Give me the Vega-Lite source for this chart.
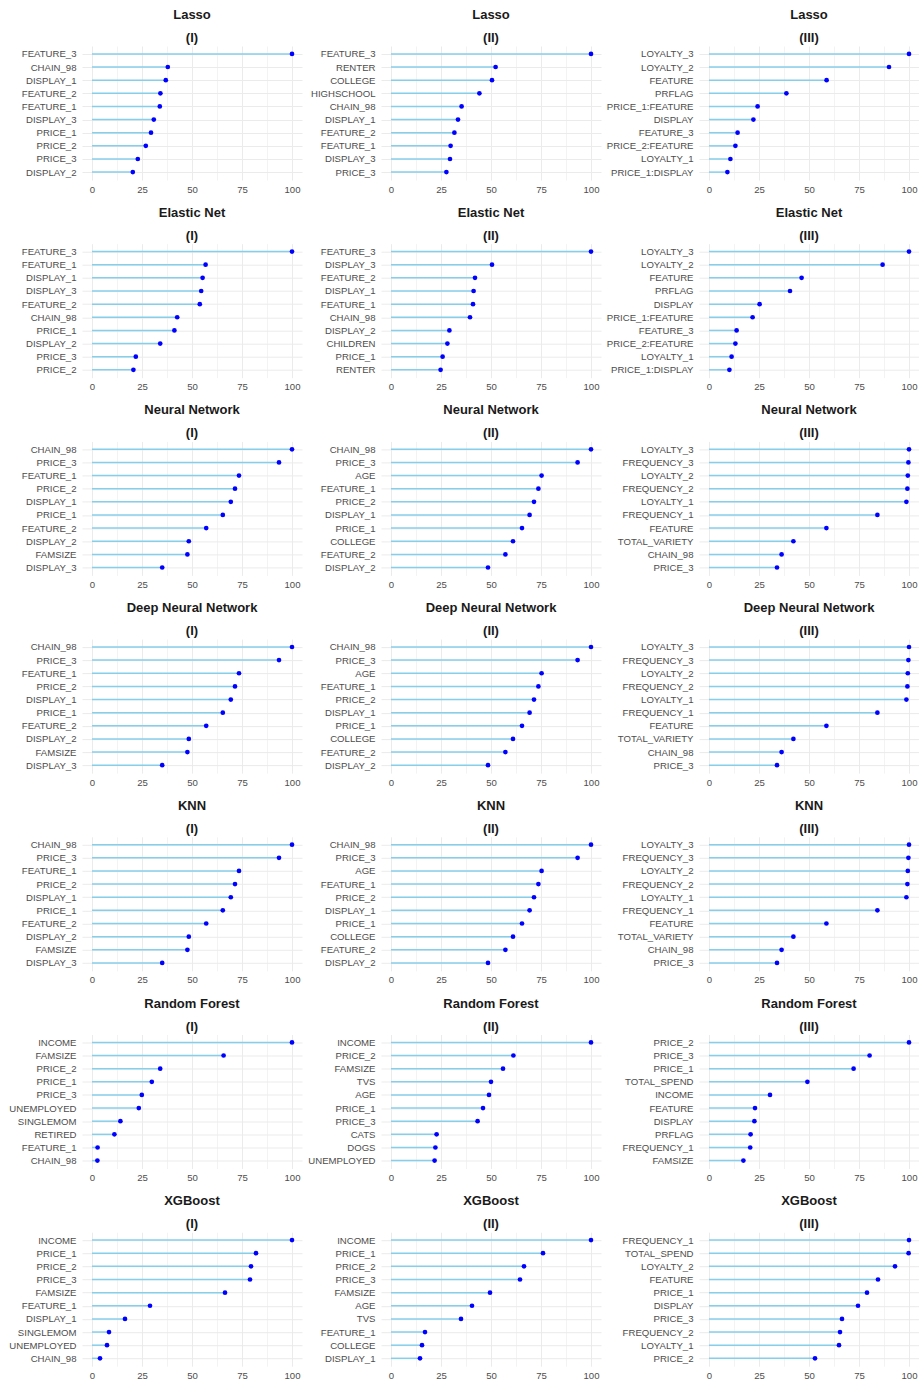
{
"$schema": "https://vega.github.io/schema/vega-lite/v6.json",
"padding": {"left": 8, "top": 9, "right": 0, "bottom": 0},
"datasets": {"d": [
{"p":"L1","f":"FEATURE_3","v":100},{"p":"L1","f":"CHAIN_98","v":37.9},{"p":"L1","f":"DISPLAY_1","v":36.9},{"p":"L1","f":"FEATURE_2","v":34.2},{"p":"L1","f":"FEATURE_1","v":33.9},{"p":"L1","f":"DISPLAY_3","v":30.9},{"p":"L1","f":"PRICE_1","v":29.5},{"p":"L1","f":"PRICE_2","v":26.9},{"p":"L1","f":"PRICE_3","v":22.9},{"p":"L1","f":"DISPLAY_2","v":20.4},
{"p":"L2","f":"FEATURE_3","v":100},{"p":"L2","f":"RENTER","v":52.3},{"p":"L2","f":"COLLEGE","v":50.5},{"p":"L2","f":"HIGHSCHOOL","v":44.2},{"p":"L2","f":"CHAIN_98","v":35.3},{"p":"L2","f":"DISPLAY_1","v":33.5},{"p":"L2","f":"FEATURE_2","v":31.7},{"p":"L2","f":"FEATURE_1","v":29.8},{"p":"L2","f":"DISPLAY_3","v":29.5},{"p":"L2","f":"PRICE_3","v":27.7},
{"p":"L3","f":"LOYALTY_3","v":100},{"p":"L3","f":"LOYALTY_2","v":90},{"p":"L3","f":"FEATURE","v":58.8},{"p":"L3","f":"PRFLAG","v":38.7},{"p":"L3","f":"PRICE_1:FEATURE","v":24.3},{"p":"L3","f":"DISPLAY","v":22.2},{"p":"L3","f":"FEATURE_3","v":14.3},{"p":"L3","f":"PRICE_2:FEATURE","v":13.2},{"p":"L3","f":"LOYALTY_1","v":10.7},{"p":"L3","f":"PRICE_1:DISPLAY","v":9.2},
{"p":"E1","f":"FEATURE_3","v":100},{"p":"E1","f":"FEATURE_1","v":56.8},{"p":"E1","f":"DISPLAY_1","v":55.3},{"p":"E1","f":"DISPLAY_3","v":54.6},{"p":"E1","f":"FEATURE_2","v":53.9},{"p":"E1","f":"CHAIN_98","v":42.6},{"p":"E1","f":"PRICE_1","v":41.2},{"p":"E1","f":"DISPLAY_2","v":34.1},{"p":"E1","f":"PRICE_3","v":21.9},{"p":"E1","f":"PRICE_2","v":20.7},
{"p":"E2","f":"FEATURE_3","v":100},{"p":"E2","f":"DISPLAY_3","v":50.5},{"p":"E2","f":"FEATURE_2","v":42},{"p":"E2","f":"DISPLAY_1","v":41.3},{"p":"E2","f":"FEATURE_1","v":41},{"p":"E2","f":"CHAIN_98","v":39.5},{"p":"E2","f":"DISPLAY_2","v":29.2},{"p":"E2","f":"CHILDREN","v":28.2},{"p":"E2","f":"PRICE_1","v":25.8},{"p":"E2","f":"RENTER","v":24.8},
{"p":"E3","f":"LOYALTY_3","v":100},{"p":"E3","f":"LOYALTY_2","v":86.8},{"p":"E3","f":"FEATURE","v":46.3},{"p":"E3","f":"PRFLAG","v":40.5},{"p":"E3","f":"DISPLAY","v":25.3},{"p":"E3","f":"PRICE_1:FEATURE","v":21.8},{"p":"E3","f":"FEATURE_3","v":13.8},{"p":"E3","f":"PRICE_2:FEATURE","v":13.2},{"p":"E3","f":"LOYALTY_1","v":11.3},{"p":"E3","f":"PRICE_1:DISPLAY","v":10.2},
{"p":"N1","f":"CHAIN_98","v":100},{"p":"N1","f":"PRICE_3","v":93.5},{"p":"N1","f":"FEATURE_1","v":73.5},{"p":"N1","f":"PRICE_2","v":71.5},{"p":"N1","f":"DISPLAY_1","v":69.4},{"p":"N1","f":"PRICE_1","v":65.4},{"p":"N1","f":"FEATURE_2","v":57.1},{"p":"N1","f":"DISPLAY_2","v":48.4},{"p":"N1","f":"FAMSIZE","v":47.7},{"p":"N1","f":"DISPLAY_3","v":35.1},
{"p":"N2","f":"CHAIN_98","v":100},{"p":"N2","f":"PRICE_3","v":93.3},{"p":"N2","f":"AGE","v":75.3},{"p":"N2","f":"FEATURE_1","v":73.7},{"p":"N2","f":"PRICE_2","v":71.5},{"p":"N2","f":"DISPLAY_1","v":69.3},{"p":"N2","f":"PRICE_1","v":65.5},{"p":"N2","f":"COLLEGE","v":61},{"p":"N2","f":"FEATURE_2","v":57.2},{"p":"N2","f":"DISPLAY_2","v":48.5},
{"p":"N3","f":"LOYALTY_3","v":100},{"p":"N3","f":"FREQUENCY_3","v":99.7},{"p":"N3","f":"LOYALTY_2","v":99.4},{"p":"N3","f":"FREQUENCY_2","v":99.2},{"p":"N3","f":"LOYALTY_1","v":98.7},{"p":"N3","f":"FREQUENCY_1","v":84.2},{"p":"N3","f":"FEATURE","v":58.7},{"p":"N3","f":"TOTAL_VARIETY","v":42.2},{"p":"N3","f":"CHAIN_98","v":36.3},{"p":"N3","f":"PRICE_3","v":34},
{"p":"D1","f":"CHAIN_98","v":100},{"p":"D1","f":"PRICE_3","v":93.5},{"p":"D1","f":"FEATURE_1","v":73.5},{"p":"D1","f":"PRICE_2","v":71.5},{"p":"D1","f":"DISPLAY_1","v":69.4},{"p":"D1","f":"PRICE_1","v":65.4},{"p":"D1","f":"FEATURE_2","v":57.1},{"p":"D1","f":"DISPLAY_2","v":48.4},{"p":"D1","f":"FAMSIZE","v":47.7},{"p":"D1","f":"DISPLAY_3","v":35.1},
{"p":"D2","f":"CHAIN_98","v":100},{"p":"D2","f":"PRICE_3","v":93.3},{"p":"D2","f":"AGE","v":75.3},{"p":"D2","f":"FEATURE_1","v":73.7},{"p":"D2","f":"PRICE_2","v":71.5},{"p":"D2","f":"DISPLAY_1","v":69.3},{"p":"D2","f":"PRICE_1","v":65.5},{"p":"D2","f":"COLLEGE","v":61},{"p":"D2","f":"FEATURE_2","v":57.2},{"p":"D2","f":"DISPLAY_2","v":48.5},
{"p":"D3","f":"LOYALTY_3","v":100},{"p":"D3","f":"FREQUENCY_3","v":99.7},{"p":"D3","f":"LOYALTY_2","v":99.4},{"p":"D3","f":"FREQUENCY_2","v":99.2},{"p":"D3","f":"LOYALTY_1","v":98.7},{"p":"D3","f":"FREQUENCY_1","v":84.2},{"p":"D3","f":"FEATURE","v":58.7},{"p":"D3","f":"TOTAL_VARIETY","v":42.2},{"p":"D3","f":"CHAIN_98","v":36.3},{"p":"D3","f":"PRICE_3","v":34},
{"p":"K1","f":"CHAIN_98","v":100},{"p":"K1","f":"PRICE_3","v":93.5},{"p":"K1","f":"FEATURE_1","v":73.5},{"p":"K1","f":"PRICE_2","v":71.5},{"p":"K1","f":"DISPLAY_1","v":69.4},{"p":"K1","f":"PRICE_1","v":65.4},{"p":"K1","f":"FEATURE_2","v":57.1},{"p":"K1","f":"DISPLAY_2","v":48.4},{"p":"K1","f":"FAMSIZE","v":47.7},{"p":"K1","f":"DISPLAY_3","v":35.1},
{"p":"K2","f":"CHAIN_98","v":100},{"p":"K2","f":"PRICE_3","v":93.3},{"p":"K2","f":"AGE","v":75.3},{"p":"K2","f":"FEATURE_1","v":73.7},{"p":"K2","f":"PRICE_2","v":71.5},{"p":"K2","f":"DISPLAY_1","v":69.3},{"p":"K2","f":"PRICE_1","v":65.5},{"p":"K2","f":"COLLEGE","v":61},{"p":"K2","f":"FEATURE_2","v":57.2},{"p":"K2","f":"DISPLAY_2","v":48.5},
{"p":"K3","f":"LOYALTY_3","v":100},{"p":"K3","f":"FREQUENCY_3","v":99.7},{"p":"K3","f":"LOYALTY_2","v":99.4},{"p":"K3","f":"FREQUENCY_2","v":99.2},{"p":"K3","f":"LOYALTY_1","v":98.7},{"p":"K3","f":"FREQUENCY_1","v":84.2},{"p":"K3","f":"FEATURE","v":58.7},{"p":"K3","f":"TOTAL_VARIETY","v":42.2},{"p":"K3","f":"CHAIN_98","v":36.3},{"p":"K3","f":"PRICE_3","v":34},
{"p":"R1","f":"INCOME","v":100},{"p":"R1","f":"FAMSIZE","v":65.8},{"p":"R1","f":"PRICE_2","v":34.1},{"p":"R1","f":"PRICE_1","v":29.9},{"p":"R1","f":"PRICE_3","v":24.9},{"p":"R1","f":"UNEMPLOYED","v":23.4},{"p":"R1","f":"SINGLEMOM","v":14.2},{"p":"R1","f":"RETIRED","v":11.2},{"p":"R1","f":"FEATURE_1","v":2.8},{"p":"R1","f":"CHAIN_98","v":2.7},
{"p":"R2","f":"INCOME","v":100},{"p":"R2","f":"PRICE_2","v":61.2},{"p":"R2","f":"FAMSIZE","v":56},{"p":"R2","f":"TVS","v":50},{"p":"R2","f":"AGE","v":49},{"p":"R2","f":"PRICE_1","v":46},{"p":"R2","f":"PRICE_3","v":43.3},{"p":"R2","f":"CATS","v":22.8},{"p":"R2","f":"DOGS","v":22.2},{"p":"R2","f":"UNEMPLOYED","v":21.8},
{"p":"R3","f":"PRICE_2","v":100},{"p":"R3","f":"PRICE_3","v":80.3},{"p":"R3","f":"PRICE_1","v":72.3},{"p":"R3","f":"TOTAL_SPEND","v":49.2},{"p":"R3","f":"INCOME","v":30.5},{"p":"R3","f":"FEATURE","v":23},{"p":"R3","f":"DISPLAY","v":22.7},{"p":"R3","f":"PRFLAG","v":20.8},{"p":"R3","f":"FREQUENCY_1","v":20.6},{"p":"R3","f":"FAMSIZE","v":17.2},
{"p":"X1","f":"INCOME","v":100},{"p":"X1","f":"PRICE_1","v":82},{"p":"X1","f":"PRICE_2","v":79.5},{"p":"X1","f":"PRICE_3","v":79},{"p":"X1","f":"FAMSIZE","v":66.5},{"p":"X1","f":"FEATURE_1","v":29},{"p":"X1","f":"DISPLAY_1","v":16.5},{"p":"X1","f":"SINGLEMOM","v":8.5},{"p":"X1","f":"UNEMPLOYED","v":7.5},{"p":"X1","f":"CHAIN_98","v":4},
{"p":"X2","f":"INCOME","v":100},{"p":"X2","f":"PRICE_1","v":76},{"p":"X2","f":"PRICE_2","v":66.5},{"p":"X2","f":"PRICE_3","v":64.5},{"p":"X2","f":"FAMSIZE","v":49.5},{"p":"X2","f":"AGE","v":40.5},{"p":"X2","f":"TVS","v":35},{"p":"X2","f":"FEATURE_1","v":17},{"p":"X2","f":"COLLEGE","v":15.5},{"p":"X2","f":"DISPLAY_1","v":14.5},
{"p":"X3","f":"FREQUENCY_1","v":100},{"p":"X3","f":"TOTAL_SPEND","v":99.8},{"p":"X3","f":"LOYALTY_2","v":93},{"p":"X3","f":"FEATURE","v":84.5},{"p":"X3","f":"PRICE_1","v":79},{"p":"X3","f":"DISPLAY","v":74.5},{"p":"X3","f":"PRICE_3","v":66.5},{"p":"X3","f":"FREQUENCY_2","v":65.5},{"p":"X3","f":"LOYALTY_1","v":65},{"p":"X3","f":"PRICE_2","v":53}
]},
"columns": 3,
"spacing": {"row": 12.7, "column": 5},
"concat": [
{"title":{"text":["Lasso","(I)"]},"data":{"name":"d"},"transform":[{"filter":"datum.p==='L1'"}],"width":220,"height":134,"encoding":{"y":{"field":"f","type":"nominal","sort":"-x","scale":{"type":"point","padding":0.6},"axis":{"title":null}},"x":{"field":"v","type":"quantitative","scale":{"domain":[-5,105],"nice":false,"zero":false},"axis":{"title":null,"values":[0,12.5,25,37.5,50,62.5,75,87.5,100],"labelExpr":"datum.value % 25 === 0 ? datum.label : ''","gridWidth":{"condition":{"test":"datum.value % 25 === 0","value":1},"value":0.6}}}},"layer":[{"mark":{"type":"rule","color":"#87CEEB","strokeWidth":1.5},"encoding":{"x2":{"datum":0}}},{"mark":{"type":"circle","color":"#0000FF","size":22,"opacity":1}}]},
{"title":{"text":["Lasso","(II)"]},"data":{"name":"d"},"transform":[{"filter":"datum.p==='L2'"}],"width":220,"height":134,"encoding":{"y":{"field":"f","type":"nominal","sort":"-x","scale":{"type":"point","padding":0.6},"axis":{"title":null}},"x":{"field":"v","type":"quantitative","scale":{"domain":[-5,105],"nice":false,"zero":false},"axis":{"title":null,"values":[0,12.5,25,37.5,50,62.5,75,87.5,100],"labelExpr":"datum.value % 25 === 0 ? datum.label : ''","gridWidth":{"condition":{"test":"datum.value % 25 === 0","value":1},"value":0.6}}}},"layer":[{"mark":{"type":"rule","color":"#87CEEB","strokeWidth":1.5},"encoding":{"x2":{"datum":0}}},{"mark":{"type":"circle","color":"#0000FF","size":22,"opacity":1}}]},
{"title":{"text":["Lasso","(III)"]},"data":{"name":"d"},"transform":[{"filter":"datum.p==='L3'"}],"width":220,"height":134,"encoding":{"y":{"field":"f","type":"nominal","sort":"-x","scale":{"type":"point","padding":0.6},"axis":{"title":null}},"x":{"field":"v","type":"quantitative","scale":{"domain":[-5,105],"nice":false,"zero":false},"axis":{"title":null,"values":[0,12.5,25,37.5,50,62.5,75,87.5,100],"labelExpr":"datum.value % 25 === 0 ? datum.label : ''","gridWidth":{"condition":{"test":"datum.value % 25 === 0","value":1},"value":0.6}}}},"layer":[{"mark":{"type":"rule","color":"#87CEEB","strokeWidth":1.5},"encoding":{"x2":{"datum":0}}},{"mark":{"type":"circle","color":"#0000FF","size":22,"opacity":1}}]},
{"title":{"text":["Elastic Net","(I)"]},"data":{"name":"d"},"transform":[{"filter":"datum.p==='E1'"}],"width":220,"height":134,"encoding":{"y":{"field":"f","type":"nominal","sort":"-x","scale":{"type":"point","padding":0.6},"axis":{"title":null}},"x":{"field":"v","type":"quantitative","scale":{"domain":[-5,105],"nice":false,"zero":false},"axis":{"title":null,"values":[0,12.5,25,37.5,50,62.5,75,87.5,100],"labelExpr":"datum.value % 25 === 0 ? datum.label : ''","gridWidth":{"condition":{"test":"datum.value % 25 === 0","value":1},"value":0.6}}}},"layer":[{"mark":{"type":"rule","color":"#87CEEB","strokeWidth":1.5},"encoding":{"x2":{"datum":0}}},{"mark":{"type":"circle","color":"#0000FF","size":22,"opacity":1}}]},
{"title":{"text":["Elastic Net","(II)"]},"data":{"name":"d"},"transform":[{"filter":"datum.p==='E2'"}],"width":220,"height":134,"encoding":{"y":{"field":"f","type":"nominal","sort":"-x","scale":{"type":"point","padding":0.6},"axis":{"title":null}},"x":{"field":"v","type":"quantitative","scale":{"domain":[-5,105],"nice":false,"zero":false},"axis":{"title":null,"values":[0,12.5,25,37.5,50,62.5,75,87.5,100],"labelExpr":"datum.value % 25 === 0 ? datum.label : ''","gridWidth":{"condition":{"test":"datum.value % 25 === 0","value":1},"value":0.6}}}},"layer":[{"mark":{"type":"rule","color":"#87CEEB","strokeWidth":1.5},"encoding":{"x2":{"datum":0}}},{"mark":{"type":"circle","color":"#0000FF","size":22,"opacity":1}}]},
{"title":{"text":["Elastic Net","(III)"]},"data":{"name":"d"},"transform":[{"filter":"datum.p==='E3'"}],"width":220,"height":134,"encoding":{"y":{"field":"f","type":"nominal","sort":"-x","scale":{"type":"point","padding":0.6},"axis":{"title":null}},"x":{"field":"v","type":"quantitative","scale":{"domain":[-5,105],"nice":false,"zero":false},"axis":{"title":null,"values":[0,12.5,25,37.5,50,62.5,75,87.5,100],"labelExpr":"datum.value % 25 === 0 ? datum.label : ''","gridWidth":{"condition":{"test":"datum.value % 25 === 0","value":1},"value":0.6}}}},"layer":[{"mark":{"type":"rule","color":"#87CEEB","strokeWidth":1.5},"encoding":{"x2":{"datum":0}}},{"mark":{"type":"circle","color":"#0000FF","size":22,"opacity":1}}]},
{"title":{"text":["Neural Network","(I)"]},"data":{"name":"d"},"transform":[{"filter":"datum.p==='N1'"}],"width":220,"height":134,"encoding":{"y":{"field":"f","type":"nominal","sort":"-x","scale":{"type":"point","padding":0.6},"axis":{"title":null}},"x":{"field":"v","type":"quantitative","scale":{"domain":[-5,105],"nice":false,"zero":false},"axis":{"title":null,"values":[0,12.5,25,37.5,50,62.5,75,87.5,100],"labelExpr":"datum.value % 25 === 0 ? datum.label : ''","gridWidth":{"condition":{"test":"datum.value % 25 === 0","value":1},"value":0.6}}}},"layer":[{"mark":{"type":"rule","color":"#87CEEB","strokeWidth":1.5},"encoding":{"x2":{"datum":0}}},{"mark":{"type":"circle","color":"#0000FF","size":22,"opacity":1}}]},
{"title":{"text":["Neural Network","(II)"]},"data":{"name":"d"},"transform":[{"filter":"datum.p==='N2'"}],"width":220,"height":134,"encoding":{"y":{"field":"f","type":"nominal","sort":"-x","scale":{"type":"point","padding":0.6},"axis":{"title":null}},"x":{"field":"v","type":"quantitative","scale":{"domain":[-5,105],"nice":false,"zero":false},"axis":{"title":null,"values":[0,12.5,25,37.5,50,62.5,75,87.5,100],"labelExpr":"datum.value % 25 === 0 ? datum.label : ''","gridWidth":{"condition":{"test":"datum.value % 25 === 0","value":1},"value":0.6}}}},"layer":[{"mark":{"type":"rule","color":"#87CEEB","strokeWidth":1.5},"encoding":{"x2":{"datum":0}}},{"mark":{"type":"circle","color":"#0000FF","size":22,"opacity":1}}]},
{"title":{"text":["Neural Network","(III)"]},"data":{"name":"d"},"transform":[{"filter":"datum.p==='N3'"}],"width":220,"height":134,"encoding":{"y":{"field":"f","type":"nominal","sort":"-x","scale":{"type":"point","padding":0.6},"axis":{"title":null}},"x":{"field":"v","type":"quantitative","scale":{"domain":[-5,105],"nice":false,"zero":false},"axis":{"title":null,"values":[0,12.5,25,37.5,50,62.5,75,87.5,100],"labelExpr":"datum.value % 25 === 0 ? datum.label : ''","gridWidth":{"condition":{"test":"datum.value % 25 === 0","value":1},"value":0.6}}}},"layer":[{"mark":{"type":"rule","color":"#87CEEB","strokeWidth":1.5},"encoding":{"x2":{"datum":0}}},{"mark":{"type":"circle","color":"#0000FF","size":22,"opacity":1}}]},
{"title":{"text":["Deep Neural Network","(I)"]},"data":{"name":"d"},"transform":[{"filter":"datum.p==='D1'"}],"width":220,"height":134,"encoding":{"y":{"field":"f","type":"nominal","sort":"-x","scale":{"type":"point","padding":0.6},"axis":{"title":null}},"x":{"field":"v","type":"quantitative","scale":{"domain":[-5,105],"nice":false,"zero":false},"axis":{"title":null,"values":[0,12.5,25,37.5,50,62.5,75,87.5,100],"labelExpr":"datum.value % 25 === 0 ? datum.label : ''","gridWidth":{"condition":{"test":"datum.value % 25 === 0","value":1},"value":0.6}}}},"layer":[{"mark":{"type":"rule","color":"#87CEEB","strokeWidth":1.5},"encoding":{"x2":{"datum":0}}},{"mark":{"type":"circle","color":"#0000FF","size":22,"opacity":1}}]},
{"title":{"text":["Deep Neural Network","(II)"]},"data":{"name":"d"},"transform":[{"filter":"datum.p==='D2'"}],"width":220,"height":134,"encoding":{"y":{"field":"f","type":"nominal","sort":"-x","scale":{"type":"point","padding":0.6},"axis":{"title":null}},"x":{"field":"v","type":"quantitative","scale":{"domain":[-5,105],"nice":false,"zero":false},"axis":{"title":null,"values":[0,12.5,25,37.5,50,62.5,75,87.5,100],"labelExpr":"datum.value % 25 === 0 ? datum.label : ''","gridWidth":{"condition":{"test":"datum.value % 25 === 0","value":1},"value":0.6}}}},"layer":[{"mark":{"type":"rule","color":"#87CEEB","strokeWidth":1.5},"encoding":{"x2":{"datum":0}}},{"mark":{"type":"circle","color":"#0000FF","size":22,"opacity":1}}]},
{"title":{"text":["Deep Neural Network","(III)"]},"data":{"name":"d"},"transform":[{"filter":"datum.p==='D3'"}],"width":220,"height":134,"encoding":{"y":{"field":"f","type":"nominal","sort":"-x","scale":{"type":"point","padding":0.6},"axis":{"title":null}},"x":{"field":"v","type":"quantitative","scale":{"domain":[-5,105],"nice":false,"zero":false},"axis":{"title":null,"values":[0,12.5,25,37.5,50,62.5,75,87.5,100],"labelExpr":"datum.value % 25 === 0 ? datum.label : ''","gridWidth":{"condition":{"test":"datum.value % 25 === 0","value":1},"value":0.6}}}},"layer":[{"mark":{"type":"rule","color":"#87CEEB","strokeWidth":1.5},"encoding":{"x2":{"datum":0}}},{"mark":{"type":"circle","color":"#0000FF","size":22,"opacity":1}}]},
{"title":{"text":["KNN","(I)"]},"data":{"name":"d"},"transform":[{"filter":"datum.p==='K1'"}],"width":220,"height":134,"encoding":{"y":{"field":"f","type":"nominal","sort":"-x","scale":{"type":"point","padding":0.6},"axis":{"title":null}},"x":{"field":"v","type":"quantitative","scale":{"domain":[-5,105],"nice":false,"zero":false},"axis":{"title":null,"values":[0,12.5,25,37.5,50,62.5,75,87.5,100],"labelExpr":"datum.value % 25 === 0 ? datum.label : ''","gridWidth":{"condition":{"test":"datum.value % 25 === 0","value":1},"value":0.6}}}},"layer":[{"mark":{"type":"rule","color":"#87CEEB","strokeWidth":1.5},"encoding":{"x2":{"datum":0}}},{"mark":{"type":"circle","color":"#0000FF","size":22,"opacity":1}}]},
{"title":{"text":["KNN","(II)"]},"data":{"name":"d"},"transform":[{"filter":"datum.p==='K2'"}],"width":220,"height":134,"encoding":{"y":{"field":"f","type":"nominal","sort":"-x","scale":{"type":"point","padding":0.6},"axis":{"title":null}},"x":{"field":"v","type":"quantitative","scale":{"domain":[-5,105],"nice":false,"zero":false},"axis":{"title":null,"values":[0,12.5,25,37.5,50,62.5,75,87.5,100],"labelExpr":"datum.value % 25 === 0 ? datum.label : ''","gridWidth":{"condition":{"test":"datum.value % 25 === 0","value":1},"value":0.6}}}},"layer":[{"mark":{"type":"rule","color":"#87CEEB","strokeWidth":1.5},"encoding":{"x2":{"datum":0}}},{"mark":{"type":"circle","color":"#0000FF","size":22,"opacity":1}}]},
{"title":{"text":["KNN","(III)"]},"data":{"name":"d"},"transform":[{"filter":"datum.p==='K3'"}],"width":220,"height":134,"encoding":{"y":{"field":"f","type":"nominal","sort":"-x","scale":{"type":"point","padding":0.6},"axis":{"title":null}},"x":{"field":"v","type":"quantitative","scale":{"domain":[-5,105],"nice":false,"zero":false},"axis":{"title":null,"values":[0,12.5,25,37.5,50,62.5,75,87.5,100],"labelExpr":"datum.value % 25 === 0 ? datum.label : ''","gridWidth":{"condition":{"test":"datum.value % 25 === 0","value":1},"value":0.6}}}},"layer":[{"mark":{"type":"rule","color":"#87CEEB","strokeWidth":1.5},"encoding":{"x2":{"datum":0}}},{"mark":{"type":"circle","color":"#0000FF","size":22,"opacity":1}}]},
{"title":{"text":["Random Forest","(I)"]},"data":{"name":"d"},"transform":[{"filter":"datum.p==='R1'"}],"width":220,"height":134,"encoding":{"y":{"field":"f","type":"nominal","sort":"-x","scale":{"type":"point","padding":0.6},"axis":{"title":null}},"x":{"field":"v","type":"quantitative","scale":{"domain":[-5,105],"nice":false,"zero":false},"axis":{"title":null,"values":[0,12.5,25,37.5,50,62.5,75,87.5,100],"labelExpr":"datum.value % 25 === 0 ? datum.label : ''","gridWidth":{"condition":{"test":"datum.value % 25 === 0","value":1},"value":0.6}}}},"layer":[{"mark":{"type":"rule","color":"#87CEEB","strokeWidth":1.5},"encoding":{"x2":{"datum":0}}},{"mark":{"type":"circle","color":"#0000FF","size":22,"opacity":1}}]},
{"title":{"text":["Random Forest","(II)"]},"data":{"name":"d"},"transform":[{"filter":"datum.p==='R2'"}],"width":220,"height":134,"encoding":{"y":{"field":"f","type":"nominal","sort":"-x","scale":{"type":"point","padding":0.6},"axis":{"title":null}},"x":{"field":"v","type":"quantitative","scale":{"domain":[-5,105],"nice":false,"zero":false},"axis":{"title":null,"values":[0,12.5,25,37.5,50,62.5,75,87.5,100],"labelExpr":"datum.value % 25 === 0 ? datum.label : ''","gridWidth":{"condition":{"test":"datum.value % 25 === 0","value":1},"value":0.6}}}},"layer":[{"mark":{"type":"rule","color":"#87CEEB","strokeWidth":1.5},"encoding":{"x2":{"datum":0}}},{"mark":{"type":"circle","color":"#0000FF","size":22,"opacity":1}}]},
{"title":{"text":["Random Forest","(III)"]},"data":{"name":"d"},"transform":[{"filter":"datum.p==='R3'"}],"width":220,"height":134,"encoding":{"y":{"field":"f","type":"nominal","sort":"-x","scale":{"type":"point","padding":0.6},"axis":{"title":null}},"x":{"field":"v","type":"quantitative","scale":{"domain":[-5,105],"nice":false,"zero":false},"axis":{"title":null,"values":[0,12.5,25,37.5,50,62.5,75,87.5,100],"labelExpr":"datum.value % 25 === 0 ? datum.label : ''","gridWidth":{"condition":{"test":"datum.value % 25 === 0","value":1},"value":0.6}}}},"layer":[{"mark":{"type":"rule","color":"#87CEEB","strokeWidth":1.5},"encoding":{"x2":{"datum":0}}},{"mark":{"type":"circle","color":"#0000FF","size":22,"opacity":1}}]},
{"title":{"text":["XGBoost","(I)"]},"data":{"name":"d"},"transform":[{"filter":"datum.p==='X1'"}],"width":220,"height":134,"encoding":{"y":{"field":"f","type":"nominal","sort":"-x","scale":{"type":"point","padding":0.6},"axis":{"title":null}},"x":{"field":"v","type":"quantitative","scale":{"domain":[-5,105],"nice":false,"zero":false},"axis":{"title":null,"values":[0,12.5,25,37.5,50,62.5,75,87.5,100],"labelExpr":"datum.value % 25 === 0 ? datum.label : ''","gridWidth":{"condition":{"test":"datum.value % 25 === 0","value":1},"value":0.6}}}},"layer":[{"mark":{"type":"rule","color":"#87CEEB","strokeWidth":1.5},"encoding":{"x2":{"datum":0}}},{"mark":{"type":"circle","color":"#0000FF","size":22,"opacity":1}}]},
{"title":{"text":["XGBoost","(II)"]},"data":{"name":"d"},"transform":[{"filter":"datum.p==='X2'"}],"width":220,"height":134,"encoding":{"y":{"field":"f","type":"nominal","sort":"-x","scale":{"type":"point","padding":0.6},"axis":{"title":null}},"x":{"field":"v","type":"quantitative","scale":{"domain":[-5,105],"nice":false,"zero":false},"axis":{"title":null,"values":[0,12.5,25,37.5,50,62.5,75,87.5,100],"labelExpr":"datum.value % 25 === 0 ? datum.label : ''","gridWidth":{"condition":{"test":"datum.value % 25 === 0","value":1},"value":0.6}}}},"layer":[{"mark":{"type":"rule","color":"#87CEEB","strokeWidth":1.5},"encoding":{"x2":{"datum":0}}},{"mark":{"type":"circle","color":"#0000FF","size":22,"opacity":1}}]},
{"title":{"text":["XGBoost","(III)"]},"data":{"name":"d"},"transform":[{"filter":"datum.p==='X3'"}],"width":220,"height":134,"encoding":{"y":{"field":"f","type":"nominal","sort":"-x","scale":{"type":"point","padding":0.6},"axis":{"title":null}},"x":{"field":"v","type":"quantitative","scale":{"domain":[-5,105],"nice":false,"zero":false},"axis":{"title":null,"values":[0,12.5,25,37.5,50,62.5,75,87.5,100],"labelExpr":"datum.value % 25 === 0 ? datum.label : ''","gridWidth":{"condition":{"test":"datum.value % 25 === 0","value":1},"value":0.6}}}},"layer":[{"mark":{"type":"rule","color":"#87CEEB","strokeWidth":1.5},"encoding":{"x2":{"datum":0}}},{"mark":{"type":"circle","color":"#0000FF","size":22,"opacity":1}}]}
],
"config": {
"view": {"stroke": null},
"font": "Liberation Sans",
"axis": {"domain": false, "ticks": false, "grid": true, "gridColor": "#EBEBEB", "gridWidth": 1, "labelColor": "#4D4D4D", "labelFontSize": 9.6, "labelFont": "Liberation Sans", "labelPadding": 4},
"axisY": {"labelPadding": 6},
"title": {"fontSize": 13, "fontWeight": "bold", "font": "Liberation Sans", "color": "#1A1A1A", "lineHeight": 23, "anchor": "middle", "frame": "group", "offset": 1}
}
}
